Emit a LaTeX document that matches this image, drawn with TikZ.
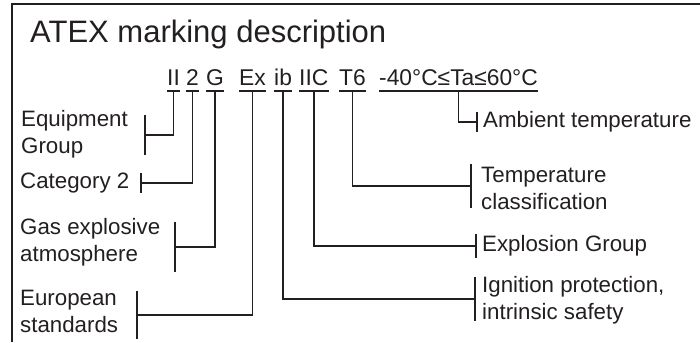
\documentclass[tikz,border=0pt]{standalone}
\usepackage{fontspec}
\setmainfont{Liberation Sans}
\definecolor{ink}{RGB}{35,31,32}

\begin{document}
\begin{tikzpicture}[x=1pt,y=-1pt,
    code/.style={anchor=base west,inner sep=0pt,text=ink,font=\fontsize{22.8}{27}\selectfont},
    lbl/.style={anchor=west,inner sep=0pt,align=left,text=ink,font=\fontsize{22.3}{27}\selectfont},
    lead/.style={line width=1.6pt,ink},
    bar/.style={line width=1.8pt,ink}]
  \useasboundingbox (0,0) rectangle (700,342);
  \draw[line width=2pt,ink] (12,342) -- (12,4) -- (700,4);
  \node[anchor=base west,inner sep=0pt,text=ink,font=\fontsize{31}{35}\selectfont] (title) at (30,43) {ATEX marking description};
  % marking line
  \node[code] (ii) at (167,85) {II};
  \node[code] (two) at (186,85) {2};
  \node[code] (g) at (206,85) {G};
  \node[code] (ex) at (239,85) {Ex};
  \node[code] (ib) at (274,85) {ib};
  \node[code] (iic) at (299,85) {IIC};
  \node[code] (t6) at (339,85) {T6};
  \node[code] (ta) at (379,85) {-40°C≤Ta≤60°C};
  \foreach \n in {ii,two,g,ex,ib,iic,t6,ta}
    \draw[lead] ([yshift=-6pt]\n.base west) -- ([yshift=-6pt]\n.base east);
  % descriptions
  \node[lbl] (lgroup) at (21,134) {Equipment\\Group};
  \node[lbl] (lcat) at (20,183) {Category 2};
  \node[lbl] (lgas) at (20,242) {Gas explosive\\atmosphere};
  \node[lbl] (leu) at (20,311) {European\\standards};
  \node[lbl] (lign) at (482,300) {Ignition protection,\\intrinsic safety};
  \node[lbl] (lexp) at (482,246) {Explosion Group};
  \node[lbl] (lclass) at (481,188) {Temperature\\classification};
  \node[lbl] (lamb) at (483,122) {Ambient temperature};
  % leaders and brackets
  \foreach \c/\x/\y/\h in {ii/145/135/20, two/141/183/10, g/175/247/25, ex/137/315/24,
      ib/475/299/22, iic/476/246/12, t6/471/186/22, ta/477/122/10}{
    \coordinate (k\c) at (\x,\y);
    \draw[lead] ([yshift=-6pt]\c.base) |- (k\c);
    \draw[bar] ([yshift=\h pt]k\c) -- ([yshift=-\h pt]k\c);
  }
\end{tikzpicture}
\end{document}
